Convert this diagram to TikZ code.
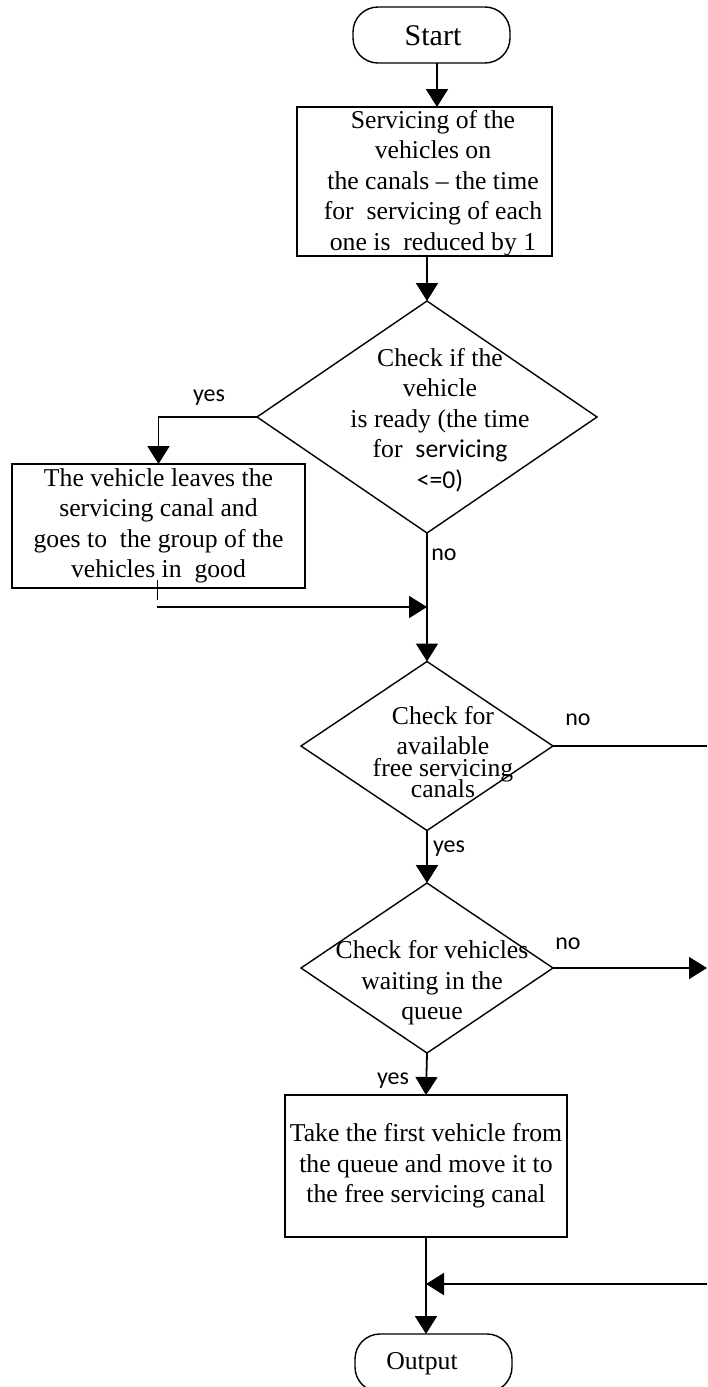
\documentclass[tikz,border=0pt]{standalone}
\usepackage{fontspec}
\setmainfont{Liberation Serif}
\newfontfamily\sansf{Carlito}
\usetikzlibrary{shapes.geometric,arrows.meta}
\begin{document}
\begin{tikzpicture}[x=1pt,y=-1pt,
  every node/.style={inner sep=0pt, outer sep=0pt},
  txt/.style={align=center, font=\fontsize{25.7}{30.5}\selectfont},
  lbl/.style={font=\sansf\fontsize{24}{28}\selectfont},
  shp/.style={draw, line width=1.4pt},
  box/.style={shp, rectangle},
  term/.style={shp, rectangle, rounded corners=25pt},
  dia/.style={shp, diamond},
  conn/.style={line width=1.8pt},
  arr/.style={conn, -{Triangle[width=22pt,length=18pt]}},
]
\useasboundingbox (0,0) rectangle (707,1387);

% shapes
\node[term, minimum width=157pt, minimum height=56pt] (start) at (431.5,35) {};
\node[txt, font=\fontsize{30}{34}\selectfont] (startt) at (433,36) {Start};

\node[box, minimum width=255pt, minimum height=149pt] (box1) at (424.5,181.5) {};
\node[txt] (box1t) at (433,183) {Servicing of the\\ vehicles on\\ the canals -- the time\\ for~~servicing of each\\ one is~~reduced by 1};

\node[dia, minimum width=340pt, minimum height=232pt] (d1) at (427,417) {};
\node[txt] (d1t) at (440,420) {Check if the\\ vehicle\\ is ready (the time\\ for~~{\sansf servicing}\\ {\sansf <=0)}};

\node[box, minimum width=293pt, minimum height=124pt, txt] (box2) at (158.5,526) {The vehicle leaves the\\ servicing canal and\\ goes to~~the group of the\\ vehicles in~~good};

\node[dia, minimum width=252pt, minimum height=169pt] (d2) at (427,746) {};
\node[txt] (d2t) at (443,752) {Check for\\ available\\[-9pt] free servicing\\[-9.5pt] canals};

\node[dia, minimum width=252pt, minimum height=170pt] (d3) at (427,968) {};
\node[txt] (d3t) at (432,983) {Check for vehicles\\ waiting in the\\ queue};

\node[box, minimum width=282pt, minimum height=142pt, txt] (box3) at (426,1166) {Take the first vehicle from\\ the queue and move it to\\ the free servicing canal};

\node[term, minimum width=157pt, minimum height=58pt] (out) at (433.5,1363) {};
\node[txt] (outt) at (422,1364) {Output};

% labels
\node[lbl] (yes1) at (209,398) {yes};
\node[lbl] (no1) at (444,555) {no};
\node[lbl] (no2) at (578,720) {no};
\node[lbl] (yes2) at (449,849) {yes};
\node[lbl] (no3) at (568,944) {no};
\node[lbl] (yes3) at (393,1081) {yes};

% coordinates
\coordinate (tk1) at (157,580);
\coordinate (tk2) at (157,600);
\coordinate (j1) at (157,607);
\coordinate (r1) at (707,746);
\coordinate (r2) at (707,968);
\coordinate (r3) at (707,1284);

% connectors
\draw[arr] ([xshift=5.5pt]start.south) -- ([xshift=12.5pt]box1.north);
\draw[arr] (box1.south -| d1.north) -- (d1.north);
\draw[arr] (d1.west) -| (box2.north);
\draw[line width=1pt] (tk1) -- (tk2);
\draw[arr] (j1) -- (j1 -| d1.south);
\draw[arr] (d1.south) -- (d2.north);
\draw[conn] (d2.east) -- (r1);
\draw[arr] (d2.south) -- (d3.north);
\draw[arr] (d3.east) -- (r2);
\draw[arr] (d3.south) -- (box3.north);
\draw[arr] (box3.south) -- (out.north -| box3.south);
\draw[arr] (r3) -- (r3 -| box3.south);
\end{tikzpicture}
\end{document}
